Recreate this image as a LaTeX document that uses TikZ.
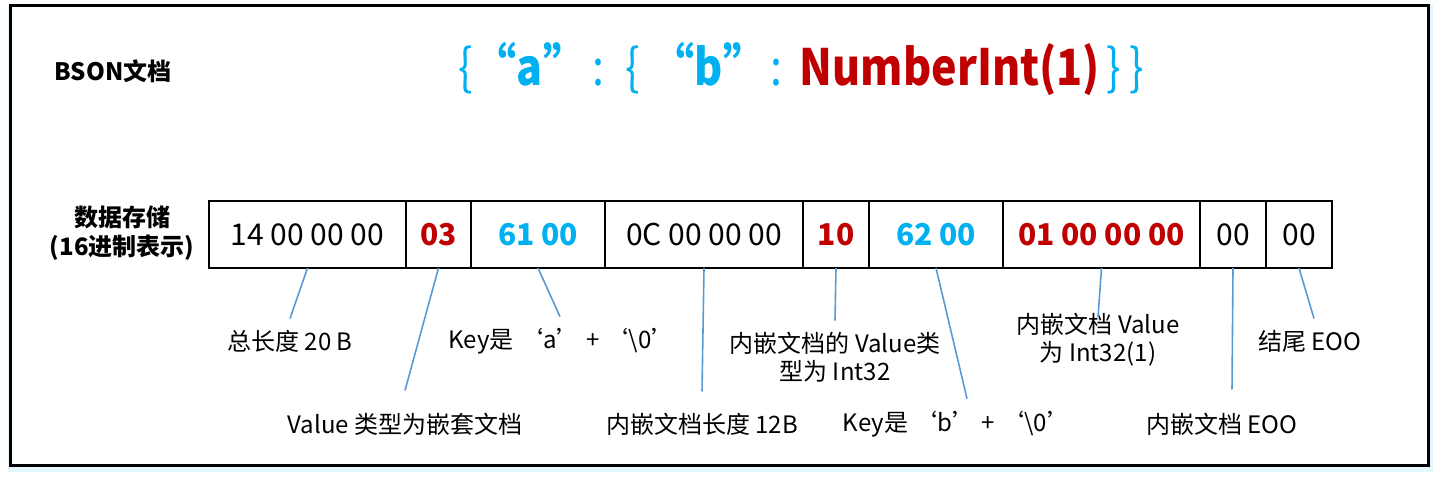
\documentclass[tikz,border=0pt]{standalone}
\usepackage{fontspec}
\setmainfont{Noto Sans CJK SC}
\newfontfamily\jsonfont[FakeStretch=0.86]{Noto Sans CJK SC}
\usetikzlibrary{positioning}
\definecolor{keyblue}{HTML}{00B0F0}
\definecolor{valred}{HTML}{C00000}
\definecolor{linkblue}{HTML}{5B9BD5}

\begin{document}
\begin{tikzpicture}[x=0.5pt,y=-0.5pt,
    cell/.style={draw, line width=1pt, minimum height=33.5pt, inner sep=0pt,
      outer sep=0pt, fill=white, font=\fontsize{15}{18}\selectfont},
    hot/.style={text=valred, font=\bfseries\fontsize{15}{18}\selectfont},
    key/.style={text=keyblue, font=\bfseries\fontsize{15}{18}\selectfont},
    link/.style={draw=linkblue, line width=0.8pt},
    note/.style={align=center, inner sep=0pt, font=\fontsize{12}{14}\selectfont},
    json/.style={anchor=base, inner sep=0pt, text=keyblue, font=\jsonfont\fontsize{25}{30}\selectfont},
    jsonb/.style={json, font=\jsonfont\bfseries\fontsize{25}{30}\selectfont}]
  \useasboundingbox (0,0) rectangle (1439,480);
  % frame
  \fill[keyblue!10] (8,4) rectangle (1433,472);
  \draw[line width=1.5pt, fill=white] (10,6) rectangle (1428,465);

  % headings
  \node[font=\bfseries\fontsize{12}{14}\selectfont] (doc) at (113,71) {BSON文档};
  \node[align=center, font=\bfseries\fontsize{12}{14.5}\selectfont] (store) at (122,233)
    {数据存储\\(16进制表示)};

  % the document
  \node[json] (lb1) at (466,86) {\{};
  \node[jsonb] (ka) at (530,86) {“a”};
  \node[json] (c1) at (598,86) {:};
  \node[json] (lb2) at (633,86) {\{};
  \node[jsonb] (kb) at (709,86) {“b”};
  \node[json] (c2) at (776,86) {:};
  \node[jsonb, text=valred] (val) at (950,86) {NumberInt(1)};
  \node[json] (rb1) at (1114,86) {\}};
  \node[json] (rb2) at (1137,86) {\}};

  % bytes
  \node[cell, minimum width=98.5pt, anchor=west] (len) at (209,234.5) {14 00 00 00};
  \node[cell, hot, minimum width=32.5pt, right=0pt of len] (type) {03};
  \node[cell, key, minimum width=67pt, right=0pt of type] (keya) {61 00};
  \node[cell, minimum width=99pt, right=0pt of keya] (sublen) {0C 00 00 00};
  \node[cell, hot, minimum width=33pt, right=0pt of sublen] (subtype) {10};
  \node[cell, key, minimum width=67pt, right=0pt of subtype] (keyb) {62 00};
  \node[cell, hot, minimum width=98.5pt, right=0pt of keyb] (subval) {01 00 00 00};
  \node[cell, minimum width=33pt, right=0pt of subval] (subend) {00};
  \node[cell, minimum width=33pt, right=0pt of subend] (fin) {00};

  % notes
  \node[note] (lenlab) at (290,341) {总长度 20 B};
  \node[note] (typelab) at (405,424) {Value 类型为嵌套文档};
  \node[note] (keyalab) at (562,341) {Key是 ‘a’ + ‘\textbackslash0’};
  \node[note] (sublenlab) at (702,424) {内嵌文档长度 12B};
  \node[note] (subtypelab) at (835,357) {内嵌文档的 Value类\\型为 Int32};
  \node[note] (keyblab) at (957,424) {Key是 ‘b’ + ‘\textbackslash0’};
  \node[note] (subvallab) at (1098,340) {内嵌文档 Value\\为 Int32(1)};
  \node[note] (subendlab) at (1222,424) {内嵌文档 EOO};
  \node[note] (finlab) at (1310,341) {结尾 EOO};

  \draw[link] (len.south) -- ([yshift=5.5pt]lenlab.north);
  \draw[link] (type.south) -- ([yshift=11pt]typelab.north);
  \draw[link] (keya.south) -- ([xshift=-1pt,yshift=5.5pt]keyalab.north);
  \draw[link] (sublen.south) -- ([yshift=10.5pt]sublenlab.north);
  \draw[link] (subtype.south) -- ([yshift=5.5pt]subtypelab.north);
  \draw[link] (keyb.south) -- ([xshift=5pt,yshift=6pt]keyblab.north);
  \draw[link] (subval.south) -- ([yshift=-2pt]subvallab.north);
  \draw[link] (subend.south) -- ([xshift=5pt,yshift=11.5pt]subendlab.north);
  \draw[link] (fin.south) -- ([xshift=2pt,yshift=5.5pt]finlab.north);
\end{tikzpicture}
\end{document}
